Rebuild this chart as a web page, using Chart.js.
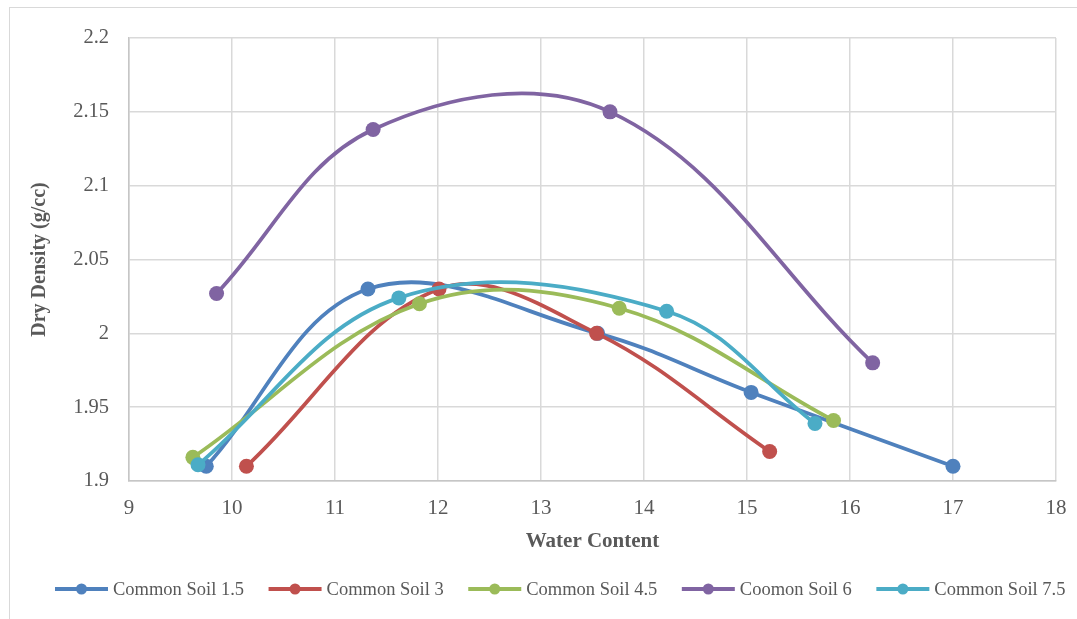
<!DOCTYPE html>
<html>
<head>
<meta charset="utf-8">
<title>Dry Density vs Water Content</title>
<script src="https://cdn.jsdelivr.net/npm/chart.js@4/dist/chart.umd.min.js"></script>
<style>
  html, body { margin: 0; padding: 0; background: #fff; overflow: hidden; }
  #wrap { position: relative; width: 1077px; height: 619px; }
  #frame { position: absolute; left: 9px; top: 7px; width: 1200px; height: 800px; border: 1px solid #d9d9d9; }
  #myChart { position: absolute; left: 0; top: 0; }
</style>
</head>
<body>
<div id="wrap">
  <div id="frame"></div>
  <canvas id="myChart" width="1077" height="619"></canvas>
</div>
<script>
// series (x = water content, y = dry density)
var soil15X = [9.75, 11.32, 13.55, 15.04, 17.0];
var soil15Y = [1.91, 2.03, 2.0, 1.96, 1.91];

var soil3X = [10.14, 12.01, 13.54, 15.22];
var soil3Y = [1.91, 2.03, 2.0, 1.92];

var soil45X = [9.62, 11.82, 13.76, 15.84];
var soil45Y = [1.916, 2.02, 2.017, 1.941];

var soil6X = [9.85, 11.37, 13.67, 16.22];
var soil6Y = [2.027, 2.138, 2.15, 1.98];

var soil75X = [9.67, 11.62, 14.22, 15.66];
var soil75Y = [1.911, 2.024, 2.015, 1.939];

var seriesNames = ['Common Soil 1.5', 'Common Soil 3', 'Common Soil 4.5', 'Coomon Soil 6', 'Common Soil 7.5'];
var COLORS = ['#4f81bd', '#c0504d', '#9bbb59', '#8064a2', '#4bacc6'];

var xTicks = [9, 10, 11, 12, 13, 14, 15, 16, 17, 18];
var yTicks = [1.9, 1.95, 2, 2.05, 2.1, 2.15, 2.2];

var FONT = '"Liberation Serif", "Times New Roman", serif';
var TEXT = '#595959';

function pts(xs, ys) {
  return xs.map(function (x, i) { return {x: x, y: ys[i]}; });
}

var allX = [soil15X, soil3X, soil45X, soil6X, soil75X];
var allY = [soil15Y, soil3Y, soil45Y, soil6Y, soil75Y];

var datasets = seriesNames.map(function (name, i) {
  return {
    label: name,
    data: pts(allX[i], allY[i]),
    showLine: true,
    borderColor: COLORS[i],
    backgroundColor: COLORS[i],
    borderWidth: 3.75,
    pointRadius: 7.5,
    pointBorderWidth: 0,
    pointBackgroundColor: COLORS[i],
    tension: 0.37,
    order: seriesNames.length - i   // later series on top, like the original
  };
});

// legend: short line with a dot, then the name
var lineLegend = {
  id: 'lineLegend',
  afterDraw: function (chart) {
    var ctx = chart.ctx;
    var x = 55, y = 589;
    ctx.save();
    ctx.font = '18.5px ' + FONT;
    ctx.textBaseline = 'middle';
    ctx.textAlign = 'left';
    chart.data.datasets.forEach(function (ds) {
      ctx.strokeStyle = ds.borderColor;
      ctx.lineWidth = 4;
      ctx.beginPath();
      ctx.moveTo(x, y);
      ctx.lineTo(x + 53, y);
      ctx.stroke();
      ctx.fillStyle = ds.borderColor;
      ctx.beginPath();
      ctx.arc(x + 26.5, y, 5.5, 0, Math.PI * 2);
      ctx.fill();
      ctx.fillStyle = TEXT;
      ctx.fillText(ds.label, x + 58, y + 1);
      x += 58 + ctx.measureText(ds.label).width + 24.5;
    });
    ctx.restore();
  }
};

new Chart('myChart', {
  type: 'scatter',
  data: { datasets: datasets },
  plugins: [lineLegend],
  options: {
    responsive: false,
    animation: false,
    devicePixelRatio: 1,
    layout: { padding: { top: 38, right: 0, bottom: 59, left: 0 } },
    plugins: {
      legend: { display: false },
      tooltip: { enabled: false }
    },
    scales: {
      x: {
        type: 'linear',
        min: xTicks[0],
        max: xTicks[xTicks.length - 1],
        afterBuildTicks: function (s) { s.ticks = xTicks.map(function (v) { return {value: v}; }); },
        afterFit: function (s) { s.height = 79; s.paddingRight = 21; s.paddingLeft = 0; },
        grid: { color: '#d9d9d9', lineWidth: 1.5, drawTicks: false },
        border: { color: '#c6c6c6', width: 1.5 },
        ticks: {
          color: TEXT,
          font: { family: FONT, size: 21 },
          padding: 15,
          maxRotation: 0
        },
        title: {
          display: true,
          text: 'Water Content',
          color: TEXT,
          font: { family: FONT, size: 21, weight: 'bold' },
          padding: { top: 0, bottom: 6 }
        }
      },
      y: {
        type: 'linear',
        min: yTicks[0],
        max: yTicks[yTicks.length - 1],
        afterBuildTicks: function (s) { s.ticks = yTicks.map(function (v) { return {value: v}; }); },
        afterFit: function (s) { s.width = 129; },
        grid: { color: '#d9d9d9', lineWidth: 1.5, drawTicks: false },
        border: { color: '#c6c6c6', width: 1.5 },
        ticks: {
          color: TEXT,
          font: { family: FONT, size: 20.5 },
          padding: 20,
          callback: function (v) { return String(parseFloat(v.toFixed(2))); }
        },
        title: {
          display: true,
          text: 'Dry Density (g/cc)',
          color: TEXT,
          font: { family: FONT, size: 20, weight: 'bold' },
          padding: { top: 28, bottom: 0 }
        }
      }
    }
  }
});
</script>
</body>
</html>
